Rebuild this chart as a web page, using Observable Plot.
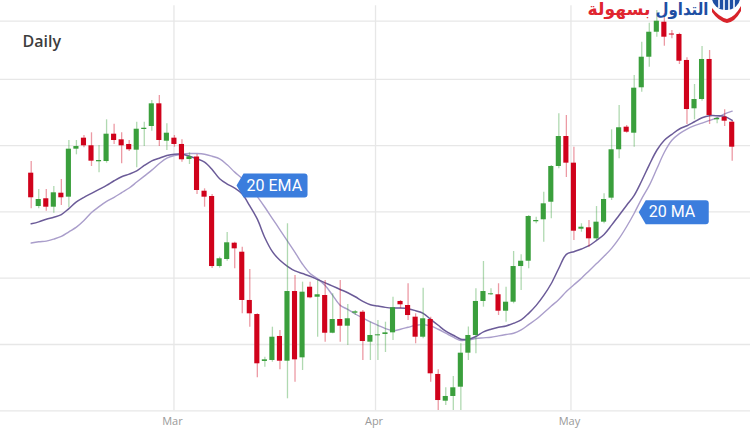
<!DOCTYPE html>
<html><head><meta charset="utf-8">
<script src="https://cdn.jsdelivr.net/npm/d3@7"></script>
<script src="https://cdn.jsdelivr.net/npm/@observablehq/plot@0.6"></script>
<style>
html,body{margin:0;padding:0;background:#fff;}
#wrap{position:relative;width:750px;height:430px;overflow:hidden;}
#logo{position:absolute;left:711px;top:-4px;}
</style></head><body>
<div id="wrap"><div id="chart"></div>
<svg id="logo" width="31" height="27" viewBox="0 0 31 27">
  <path d="M1,2 H29 A14,12 0 0 1 1,2 Z" fill="#1f4fa3"/>
  <path d="M8,2 V12 M13,2 V14 M18,2 V14 M23,2 V12" stroke="#fff" stroke-width="1.6"/>
  <path d="M1,12 Q8,21 16,23 Q24,21 30,10 L30,15 Q24,26 16,27 Q7,25 1,16 Z" fill="#d8232a"/>
</svg>
</div>
<script>
// OHLC (daily candles, left to right)
const open  = [135.84,130.81,131.98,130.71,132.82,132.22,139.46,141.12,139.97,137.56,137.60,141.72,140.87,140.17,139.31,142.43,142.88,146.30,140.66,141.12,140.17,137.90,138.28,133.12,132.32,121.76,122.82,125.28,123.92,116.64,114.52,107.44,107.59,111.21,107.48,117.99,107.99,118.64,117.13,117.39,111.70,113.77,112.76,114.72,114.87,110.35,111.31,111.51,111.76,116.49,115.88,114.12,111.10,113.77,105.48,101.45,102.16,103.56,108.69,111.36,116.49,117.50,117.50,115.02,116.38,121.76,122.56,128.51,128.81,131.46,136.85,141.37,137.35,127.39,127.60,125.94,128.45,132.07,139.37,142.78,141.87,148.72,153.33,157.10,158.61,156.83,156.76,152.84,145.55,146.95,152.99,143.89,144.28,143.53];
const high  = [137.60,133.38,133.38,133.83,134.89,140.77,140.77,141.52,141.93,140.02,143.89,143.23,141.93,140.77,143.53,143.53,146.80,147.56,143.29,141.52,140.87,138.91,138.66,133.48,132.62,123.17,126.89,125.43,124.68,121.31,114.63,108.08,112.61,112.11,128.21,120.41,119.40,119.40,119.65,119.65,117.65,119.65,116.03,115.13,115.13,113.36,113.62,113.36,117.13,116.64,119.16,114.63,118.49,114.12,106.18,103.47,105.17,110.11,112.64,118.40,122.52,118.40,119.16,118.64,124.03,123.53,129.46,129.20,132.97,137.00,144.80,144.54,139.76,128.21,128.70,130.81,132.73,142.38,146.05,143.03,150.57,155.60,158.46,160.38,159.88,157.36,156.95,153.24,149.22,154.95,154.34,144.28,145.40,143.68];
const low   = [130.47,130.47,130.11,129.80,130.97,130.62,138.61,139.67,136.85,135.90,137.35,140.17,137.25,139.11,136.65,139.86,142.17,139.86,139.26,139.76,137.50,137.15,132.62,130.71,121.46,121.51,122.56,121.42,114.63,112.61,104.98,106.58,107.33,106.18,101.81,104.31,106.08,116.89,111.10,110.35,111.61,110.35,109.85,114.37,107.59,107.59,107.59,108.79,110.60,115.38,113.62,110.11,110.86,104.31,100.05,100.80,100.05,100.05,107.59,108.60,115.63,117.39,114.37,113.36,116.14,118.14,121.42,128.21,125.43,128.96,136.50,135.19,125.69,126.94,124.68,125.69,128.21,131.72,138.01,141.87,139.76,148.05,151.83,156.35,154.99,156.11,152.23,143.18,143.89,146.70,143.18,143.29,142.88,137.65];
const close = [132.13,131.87,130.71,132.88,132.13,139.46,139.86,139.97,137.65,137.75,141.72,140.77,139.97,139.37,142.47,142.62,146.30,140.77,141.87,140.17,137.86,138.31,133.23,132.22,121.76,122.93,125.34,124.43,116.64,114.63,107.09,107.69,111.10,107.48,117.99,107.69,117.89,117.04,117.50,111.70,113.77,112.76,113.88,114.93,110.45,111.36,111.46,111.76,115.54,115.99,114.37,111.10,113.88,105.58,101.55,102.16,103.47,108.69,111.36,116.49,117.99,117.65,115.02,116.38,121.76,122.56,129.31,128.70,131.22,136.85,141.37,137.35,127.09,127.69,125.94,128.45,131.87,139.37,142.69,142.02,148.66,153.33,157.10,158.76,156.35,156.68,152.73,145.44,146.95,152.99,144.54,144.09,143.68,139.76];

// Moving averages
const ema20 = [128.2,128.5,128.9,129.2,129.6,130.5,131.5,132.2,132.8,133.4,134.0,134.7,135.3,135.7,136.2,137.0,137.7,138.1,138.5,138.7,138.7,138.4,138.0,137.5,136.4,135.0,134.2,133.6,132.7,130.9,128.9,126.1,124.0,122.7,121.8,121.1,120.7,120.3,119.8,119.3,118.8,118.3,117.8,117.2,116.5,116.0,115.8,115.6,115.5,115.5,115.4,115.1,114.7,113.8,112.9,112.0,111.4,110.8,110.8,111.2,111.9,112.3,112.6,112.8,113.2,113.7,114.7,115.9,117.4,119.2,121.5,123.6,124.0,124.4,124.9,125.7,126.6,128.0,129.5,131.0,132.5,134.7,137.1,139.3,140.8,141.7,142.5,143.0,143.6,144.2,144.5,144.5,144.4,143.8];
const ma20  = [125.3,125.5,125.6,125.9,126.3,127.0,127.7,128.7,129.9,130.8,131.6,132.2,132.9,133.6,134.5,135.4,136.3,137.3,138.1,138.5,138.7,138.8,138.8,138.7,138.4,138.0,137.1,136.0,135.0,133.8,132.3,130.7,129.0,127.3,125.6,123.9,122.1,120.7,119.9,118.9,117.4,115.9,115.3,114.6,114.0,113.4,112.9,112.4,112.1,112.3,112.6,112.9,113.0,112.8,112.3,111.7,111.1,110.6,110.7,110.9,111.0,111.1,111.3,111.5,111.7,112.2,113.0,113.8,114.8,115.8,116.8,118.0,119.0,120.0,121.1,122.2,123.3,124.5,126.0,127.8,129.8,132.0,134.0,136.5,139.0,140.8,141.8,142.5,143.0,143.4,143.8,144.2,144.8,145.2];

// Axis: month starts (candle index) and labels
const monthAt = [18.94, 45.68, 71.61];
const monthLabels = ["Mar", "Apr", "May"];
// Horizontal grid levels
const yGrid = [100, 110, 120, 130, 140, 150, 158.76];

// Line tags (candle index, value)
const tagLabels = ["20 EMA", "20 MA"];
const tagAt = [27.24, 80.6];
const tagValue = [133.98, 129.95];

const candles = open.map((o, i) => ({i, o, h: high[i], l: low[i], c: close[i], up: close[i] >= open[i]}));
const lines = ema20.map((e, i) => ({i, ema: e, ma: ma20[i]}));
const tags = tagLabels.map((label, k) => ({label, at: tagAt[k], value: tagValue[k]}));

const RED = "#d0021b", GREEN = "#3a9f3c", BLUE = "#3b7ddd";

function tagSymbol(w, h) {
  return {draw(ctx) {
    const r = 3, t = 7, hh = h / 2;
    ctx.moveTo(0, 0);
    ctx.lineTo(t, -hh);
    ctx.lineTo(w - r, -hh);
    ctx.quadraticCurveTo(w, -hh, w, -hh + r);
    ctx.lineTo(w, hh - r);
    ctx.quadraticCurveTo(w, hh, w - r, hh);
    ctx.lineTo(t, hh);
    ctx.closePath();
  }};
}

const chart = Plot.plot({
  width: 750, height: 430,
  marginTop: 0, marginRight: 0, marginBottom: 0, marginLeft: 0,
  x: {domain: [0, 93], range: [30.7, 731.7], axis: null},
  y: {domain: [100, 160], range: [410.3, 12.5], axis: null},
  style: {background: "#fff", fontFamily: "'Open Sans', sans-serif", overflow: "visible"},
  marks: [
    Plot.ruleY(yGrid, {stroke: "#e7e7e7", strokeWidth: 1.3}),
    Plot.ruleX(monthAt, {y1: 100, y2: 161.1, stroke: "#e7e7e7", strokeWidth: 1.3}),
    Plot.text(monthLabels, {x: (d, i) => monthAt[i], frameAnchor: "bottom", dx: -1.5, dy: -9, fill: "#9a9a9a", fontSize: 11, lineAnchor: "middle"}),
    Plot.text(["Daily"], {frameAnchor: "top-left", dx: 22, dy: 41, textAnchor: "start", lineAnchor: "middle", fontSize: 16, fontWeight: 600, fill: "#3d3d3d"}),
    Plot.line(lines, {x: "i", y: "ma", stroke: "#aa9ecb", strokeWidth: 1.4, curve: "catmull-rom"}),
    Plot.line(lines, {x: "i", y: "ema", stroke: "#6b5b98", strokeWidth: 1.5, curve: "catmull-rom"}),
    Plot.ruleX(candles, {x: "i", y1: "l", y2: "h", stroke: d => d.up ? GREEN : RED, strokeOpacity: 0.4, strokeWidth: 1.3}),
    Plot.rect(candles, {x1: d => d.i - 0.34, x2: d => d.i + 0.34, y1: "o", y2: "c", fill: d => d.up ? GREEN : RED}),
    Plot.dot([tags[0]], {x: "at", y: "value", symbol: tagSymbol(71, 24), fill: BLUE, stroke: "none"}),
    Plot.dot([tags[1]], {x: "at", y: "value", symbol: tagSymbol(70, 24), fill: BLUE, stroke: "none"}),
    Plot.text(tags, {x: "at", y: "value", text: "label", dx: 10, textAnchor: "start", lineAnchor: "middle", fill: "#fff", fontSize: 16, fontFamily: "Roboto, sans-serif"}),
    Plot.text(["التداول"], {frameAnchor: "top-left", dx: 708, dy: 9, textAnchor: "end", lineAnchor: "middle", fill: "#1f4fa3", fontSize: 17, fontWeight: "bold", fontFamily: "'DejaVu Sans', sans-serif"}),
    Plot.text(["بسهولة"], {frameAnchor: "top-left", dx: 650, dy: 9, textAnchor: "end", lineAnchor: "middle", fill: "#e0252f", fontSize: 17, fontWeight: "bold", fontFamily: "'DejaVu Sans', sans-serif"})
  ]
});
// fit logo words to their widths in the reference
const fit = {"التداول": 53, "بسهولة": 63};
d3.select(chart).selectAll("text").each(function() {
  const w = fit[this.textContent];
  if (w) { this.setAttribute("textLength", w); this.setAttribute("lengthAdjust", "spacingAndGlyphs"); }
});
document.getElementById("chart").appendChild(chart);
</script>
</body></html>
